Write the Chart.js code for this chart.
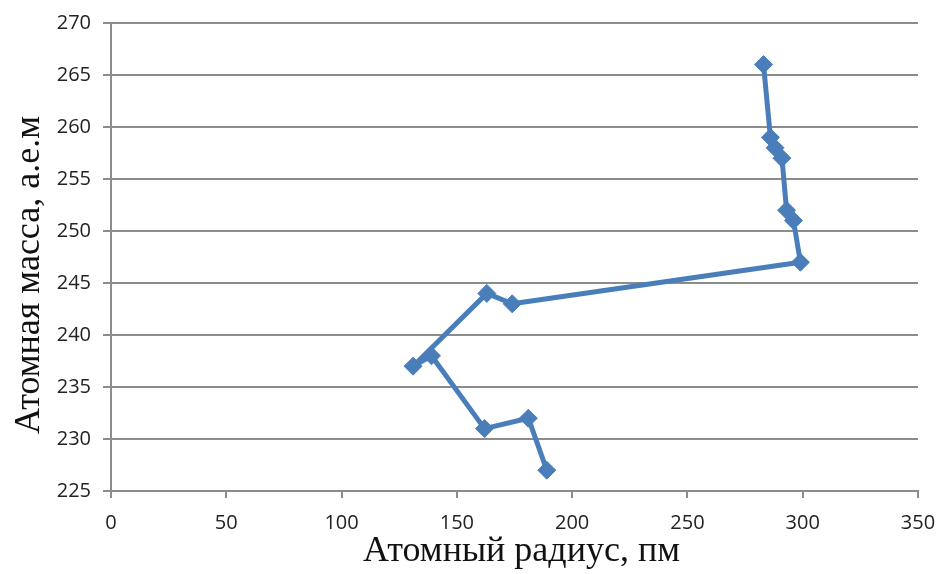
<!DOCTYPE html>
<html>
<head>
<meta charset="utf-8">
<script src="https://cdn.jsdelivr.net/npm/chart.js@4.4.0/dist/chart.umd.min.js"></script>
<style>
  html, body { margin: 0; padding: 0; background: #ffffff; }
  #wrap { width: 938px; height: 574px; }
</style>
</head>
<body>
<div id="wrap"><canvas id="radiusChart" width="938" height="574"></canvas></div>
<script>
// Actinides Ac..Lr: atomic radius (pm) vs atomic mass (a.e.m)
const radius = [189, 181, 162, 139, 131, 163, 174, 299, 296, 293, 291, 288, 286, 283];
const mass = [227, 232, 231, 238, 237, 244, 243, 247, 251, 252, 257, 258, 259, 266];

const xTitle = "Атомный радиус, пм";
const yTitle = "Атомная масса, а.е.м";

const lineColor = "#4a7ebb";
const gridColor = "#8c8c8c";
const tickFont = { family: "'Open Sans', sans-serif", size: 20 };
const titleFont = "36px 'Liberation Serif', serif";

const points = radius.map((r, i) => ({ x: r, y: mass[i] }));

// axis titles drawn by hand so they can sit where the old spreadsheet put them
const axisTitles = {
  id: "axisTitles",
  afterDraw(chart) {
    const { ctx, chartArea } = chart;
    ctx.save();
    ctx.fillStyle = "#111";
    ctx.font = titleFont;
    ctx.textAlign = "center";
    ctx.textBaseline = "middle";
    ctx.fillText(xTitle, (chartArea.left + chartArea.right) / 2 + 7, 552);
    ctx.translate(30, (chartArea.top + chartArea.bottom) / 2 + 18);
    ctx.rotate(-Math.PI / 2);
    ctx.fillText(yTitle, 0, 0);
    ctx.restore();
  },
};

new Chart(document.getElementById("radiusChart"), {
  type: "scatter",
  data: {
    datasets: [
      {
        data: points,
        showLine: true,
        borderColor: lineColor,
        backgroundColor: lineColor,
        borderWidth: 5,
        borderJoinStyle: "round",
        borderCapStyle: "round",
        pointStyle: "rectRot",
        pointRadius: 9,
        pointBorderWidth: 1,
        tension: 0,
      },
    ],
  },
  options: {
    responsive: false,
    animation: false,
    layout: { padding: { top: 23, right: 20, left: 0, bottom: 0 } },
    plugins: {
      legend: { display: false },
      tooltip: { enabled: false },
    },
    scales: {
      x: {
        type: "linear",
        min: 0,
        max: 350,
        ticks: { stepSize: 50, color: "#222", font: tickFont, padding: 13 },
        grid: {
          drawOnChartArea: false,
          drawTicks: true,
          tickLength: 7,
          color: gridColor,
          lineWidth: 2,
        },
        border: { color: gridColor, width: 2 },
        afterFit: (scale) => {
          scale.height = 83;
          scale.paddingLeft = 0;
          scale.paddingRight = 0;
        },
      },
      y: {
        min: 225,
        max: 270,
        ticks: { stepSize: 5, color: "#222", font: tickFont, padding: 12 },
        grid: {
          drawOnChartArea: true,
          drawTicks: true,
          tickLength: 8,
          color: gridColor,
          lineWidth: 2,
        },
        border: { color: gridColor, width: 2 },
        afterFit: (scale) => {
          scale.width = 111;
          scale.paddingTop = 0;
          scale.paddingBottom = 0;
        },
      },
    },
  },
  plugins: [axisTitles],
});
</script>
</body>
</html>
